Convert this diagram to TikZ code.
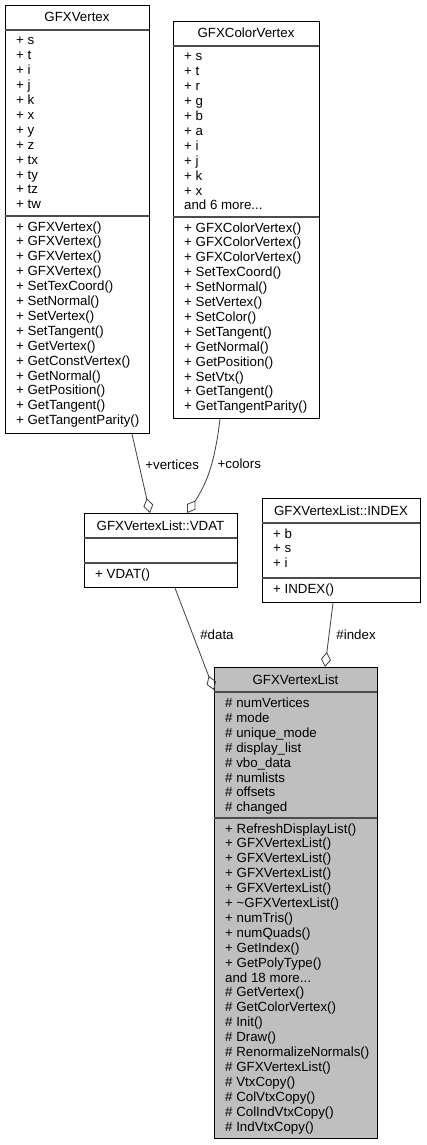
\documentclass[tikz,border=0pt]{standalone}
\usepackage{fontspec}
\setmainfont{Liberation Sans}
\usetikzlibrary{arrows.meta,positioning}

\newcommand{\memberlist}[1]{\begin{tabular}[t]{@{}l@{}}#1\end{tabular}}

\begin{document}
\begin{tikzpicture}[x=1pt,y=-1pt]
	\tikzstyle{ClassBox}	= [draw=black, line width=1pt, fill=white, anchor=north west, inner sep=0pt]
	\tikzstyle{Main}	= [fill={rgb,255:red,191;green,191;blue,191}]
	\tikzstyle{Sep}		= [draw=black!70, line width=1.3pt]
	\tikzstyle{Title}	= [anchor=base, inner sep=0pt, font=\fontsize{13.3}{14.9}\selectfont]
	\tikzstyle{Members}	= [anchor=base west, inner sep=0pt, font=\fontsize{13.3}{14.9}\selectfont]
	\tikzstyle{Assoc}	= [draw=black!75, line width=0.8pt, -{Diamond[open, length=15pt, width=10pt]}]
	\tikzstyle{EdgeLabel}	= [inner sep=0pt, font=\fontsize{13.3}{14.9}\selectfont]

	\path [fill=white, use as bounding box] (0,0) rectangle (426,1145);

	% GFXVertex
	\node (vertex) at (5,5) [ClassBox, minimum width=144pt, minimum height=428pt] {};
	\draw [Sep] (5,30) -- (149,30);
	\draw [Sep] (5,216) -- (149,216);
	\node (vertex-t) at (77,22) [Title] {GFXVertex};
	\node (vertex-a) at (16,45) [Members] {\memberlist{+ s\\ + t\\ + i\\ + j\\ + k\\ + x\\ + y\\ + z\\ + tx\\ + ty\\ + tz\\ + tw}};
	\node (vertex-m) at (16,231) [Members] {\memberlist{+ GFXVertex()\\ + GFXVertex()\\ + GFXVertex()\\ + GFXVertex()\\ + SetTexCoord()\\ + SetNormal()\\ + SetVertex()\\ + SetTangent()\\ + GetVertex()\\ + GetConstVertex()\\ + GetNormal()\\ + GetPosition()\\ + GetTangent()\\ + GetTangentParity()}};

	% GFXColorVertex
	\node (cvertex) at (173,21) [ClassBox, minimum width=146pt, minimum height=397pt] {};
	\draw [Sep] (173,46) -- (319,46);
	\draw [Sep] (173,217) -- (319,217);
	\node (cvertex-t) at (246,38) [Title] {GFXColorVertex};
	\node (cvertex-a) at (184,61) [Members] {\memberlist{+ s\\ + t\\ + r\\ + g\\ + b\\ + a\\ + i\\ + j\\ + k\\ + x\\ and 6 more...}};
	\node (cvertex-m) at (184,232) [Members] {\memberlist{+ GFXColorVertex()\\ + GFXColorVertex()\\ + GFXColorVertex()\\ + SetTexCoord()\\ + SetNormal()\\ + SetVertex()\\ + SetColor()\\ + SetTangent()\\ + GetNormal()\\ + GetPosition()\\ + SetVtx()\\ + GetTangent()\\ + GetTangentParity()}};

	% GFXVertexList::VDAT
	\node (vdat) at (84,513) [ClassBox, minimum width=153pt, minimum height=74pt] {};
	\draw [Sep] (84,538) -- (237,538);
	\draw [Sep] (84,563) -- (237,563);
	\node (vdat-t) at (160.5,530) [Title] {GFXVertexList::VDAT};
	\node (vdat-m) at (95,578) [Members] {\memberlist{+ VDAT()}};

	% GFXVertexList::INDEX
	\node (index) at (262,498) [ClassBox, minimum width=158pt, minimum height=104pt] {};
	\draw [Sep] (262,523) -- (420,523);
	\draw [Sep] (262,578) -- (420,578);
	\node (index-t) at (341,515) [Title] {GFXVertexList::INDEX};
	\node (index-a) at (273,538) [Members] {\memberlist{+ b\\ + s\\ + i}};
	\node (index-m) at (273,593) [Members] {\memberlist{+ INDEX()}};

	% GFXVertexList
	\node (vlist) at (214,667) [ClassBox, Main, minimum width=163pt, minimum height=471pt] {};
	\draw [Sep] (214,692) -- (377,692);
	\draw [Sep] (214,818) -- (377,818);
	\node (vlist-t) at (295.5,684) [Title] {GFXVertexList};
	\node (vlist-a) at (225,707.5) [Members] {\memberlist{\# numVertices\\ \# mode\\ \# unique\_mode\\ \# display\_list\\ \# vbo\_data\\ \# numlists\\ \# offsets\\ \# changed}};
	\node (vlist-m) at (225,833) [Members] {\memberlist{+ RefreshDisplayList()\\ + GFXVertexList()\\ + GFXVertexList()\\ + GFXVertexList()\\ + GFXVertexList()\\ + \textasciitilde GFXVertexList()\\ + numTris()\\ + numQuads()\\ + GetIndex()\\ + GetPolyType()\\ and 18 more...\\ \# GetVertex()\\ \# GetColorVertex()\\ \# Init()\\ \# Draw()\\ \# RenormalizeNormals()\\ \# GFXVertexList()\\ \# VtxCopy()\\ \# ColVtxCopy()\\ \# ColIndVtxCopy()\\ \# IndVtxCopy()}};

	% associations
	\draw [Assoc] ([xshift=127pt]vertex.south west) to node [EdgeLabel, pos=0.39, right=6pt] {+vertices} ([xshift=66pt]vdat.north west);
	\draw [Assoc] ([xshift=47pt]cvertex.south west) to [out=-97, in=56] node [EdgeLabel, pos=0.45, right=6pt] {+colors} ([xshift=103pt]vdat.north west);
	\draw [Assoc] ([xshift=91pt]vdat.south west) to node [EdgeLabel, pos=0.46, right=7pt] {\#data} ([yshift=-23pt]vlist.north west);
	\draw [Assoc] ([xshift=71pt]index.south west) to node [EdgeLabel, pos=0.49, right=7pt] {\#index} ([xshift=111pt]vlist.north west);

\end{tikzpicture}
\end{document}
